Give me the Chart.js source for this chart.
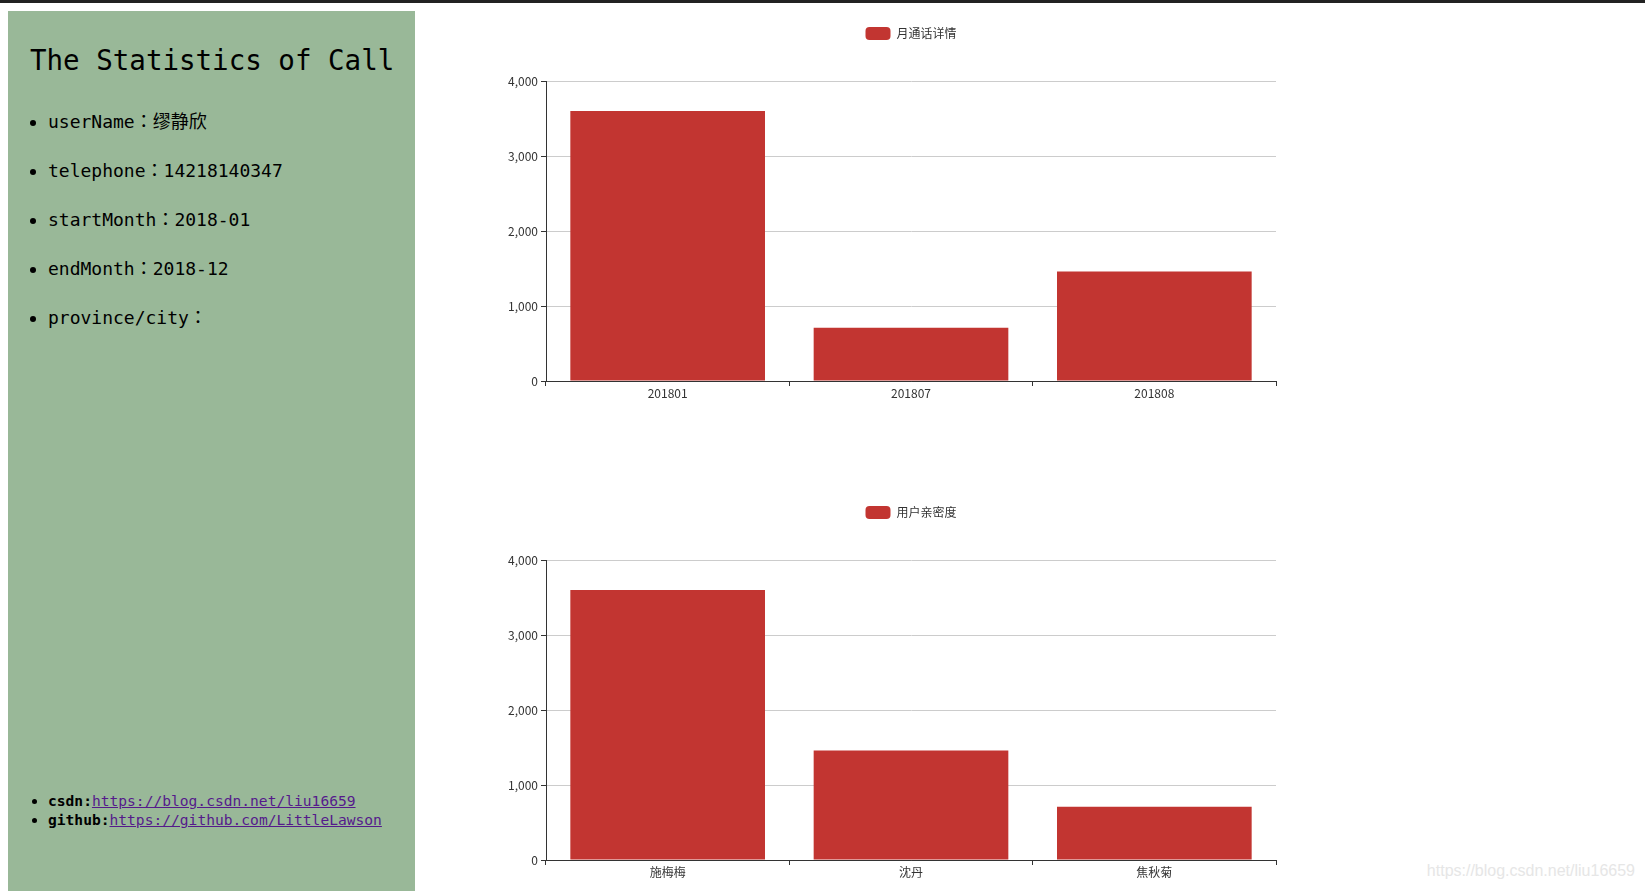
<!DOCTYPE html>
<html>
<head>
<meta charset="utf-8">
<script src="https://cdn.jsdelivr.net/npm/chart.js@4"></script>
<style>
  html, body { margin: 0; padding: 0; background: #fff; width: 1645px; height: 891px; overflow: hidden; }
  #topbar { position: absolute; left: 0; top: 0; width: 1645px; height: 3px; background: #222; }
  #side { position: absolute; left: 8px; top: 11px; width: 407px; height: 880px; background: #99b898;
          font-family: "DejaVu Sans Mono", "Noto Sans CJK SC", monospace; color: #000; }
  #side h1 { position: absolute; left: 22px; top: 33px; margin: 0; font-size: 27.5px; line-height: 32px; font-weight: normal; white-space: nowrap; }
  #info { position: absolute; left: 0; top: 85px; margin: 0; padding-left: 40px; font-size: 18px; }
  #info li { height: 49px; line-height: 49px; white-space: nowrap; }
  #info .c { font-family: "Noto Sans CJK TC", "Noto Sans CJK JP", sans-serif; }
  #links { position: absolute; left: 0; top: 780px; margin: 0; padding-left: 40px; font-size: 14.6px; }
  #links li { height: 19px; line-height: 19px; white-space: nowrap; }
  #links a { color: #551a8b; }
  .box { position: absolute; left: 455px; width: 912px; height: 394px; }
  #mark { position: absolute; right: 10px; top: 862px; font-family: "Liberation Sans", Arial, sans-serif; font-size: 16px; color: #e6e6e6; }
</style>
</head>
<body>
<div id="topbar"></div>
<div id="side">
  <h1>The Statistics of Call</h1>
  <ul id="info">
    <li>userName<span class="c">：</span>缪静欣</li>
    <li>telephone<span class="c">：</span>14218140347</li>
    <li>startMonth<span class="c">：</span>2018-01</li>
    <li>endMonth<span class="c">：</span>2018-12</li>
    <li>province/city<span class="c">：</span></li>
  </ul>
  <ul id="links">
    <li><b>csdn:</b><a href="#">https://blog.csdn.net/liu16659</a></li>
    <li><b>github:</b><a href="#">https://github.com/LittleLawson</a></li>
  </ul>
</div>
<div class="box" style="top:17px"><canvas id="monthlyChart"></canvas></div>
<div class="box" style="top:496px"><canvas id="contactChart"></canvas></div>
<div id="mark">https://blog.csdn.net/liu16659</div>
<script>
const monthLabels = ["201801", "201807", "201808"];
const monthValues = [3600, 710, 1460];
const contactLabels = ["施梅梅", "沈丹", "焦秋菊"];
const contactValues = [3600, 1460, 710];
const yMax = 4000;
const yStep = 1000;

Chart.defaults.font.family = '"Noto Sans CJK SC", "Noto Sans", sans-serif';
Chart.defaults.font.size = 12;
Chart.defaults.color = "#333";

function makeChart(id, title, labels, values) {
  return new Chart(document.getElementById(id), {
    type: "bar",
    data: {
      labels: labels,
      datasets: [
        { label: title, data: values, backgroundColor: "#c23531", categoryPercentage: 1, barPercentage: 0.8 }
      ]
    },
    options: {
      responsive: true,
      maintainAspectRatio: false,
      animation: false,
      layout: { padding: 0 },
      plugins: {
        tooltip: { enabled: false },
        legend: {
          position: "top",
          labels: { boxWidth: 25, boxHeight: 13, useBorderRadius: true, borderRadius: 4, padding: 10, color: "#333" }
        }
      },
      scales: {
        x: {
          grid: { offset: true, drawOnChartArea: false, drawTicks: true, tickLength: 5, tickColor: "#333" },
          border: { color: "#333" },
          ticks: { padding: 0, color: "#333" },
          afterFit: s => { s.height = 30; }
        },
        xTop: {
          type: "category", position: "top",
          grid: { display: false }, border: { display: false }, ticks: { display: false },
          afterFit: s => { s.height = 31; }
        },
        y: {
          min: 0, max: yMax,
          ticks: { stepSize: yStep, padding: 3, color: "#333" },
          grid: { color: c => (c.tick && c.tick.value === 0 ? "#333" : "#ccc"), tickLength: 5, tickColor: "#333" },
          border: { color: "#333" },
          afterFit: s => { s.width = 91; }
        },
        yRight: {
          type: "linear", position: "right",
          grid: { display: false }, border: { display: false }, ticks: { display: false },
          afterFit: s => { s.width = 91; }
        }
      }
    }
  });
}

makeChart("monthlyChart", "月通话详情", monthLabels, monthValues);
makeChart("contactChart", "用户亲密度", contactLabels, contactValues);
</script>
</body>
</html>
